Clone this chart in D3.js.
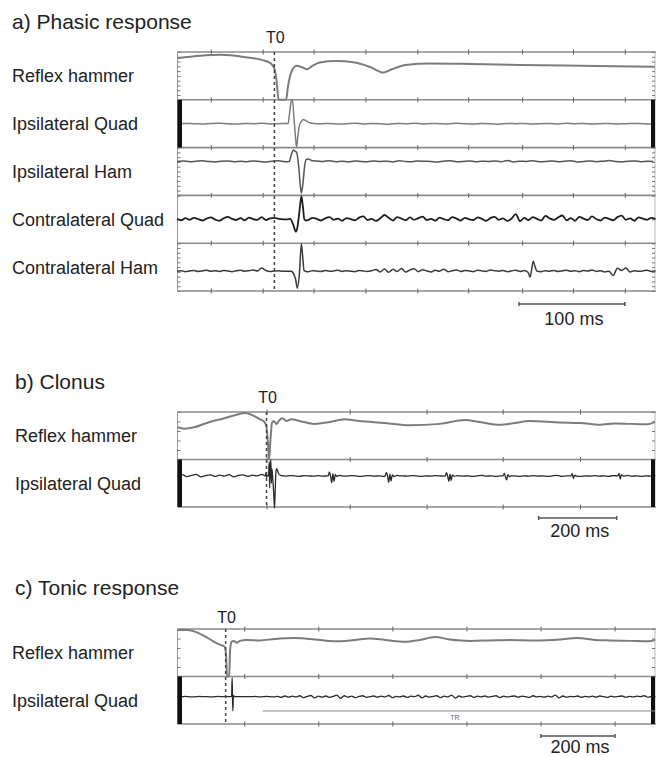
<!DOCTYPE html>
<html>
<head>
<meta charset="utf-8">
<script src="https://cdn.jsdelivr.net/npm/d3@7"></script>
<style>
  body { margin: 0; background: #fff; }
  text { font-family: "Liberation Sans", Arial, sans-serif; fill: #222; }
</style>
</head>
<body>
<svg id="fig" width="656" height="757"></svg>
<script>
// ---------- data (time in ms relative to T0, amplitude in % of row) ----------

// a) phasic response
var hammerA = [[-91.5,87],[-70,92],[-51,94],[-27,89],[-11,83],[-4,77],[0,66],[2,41],[4,0],[11,0],[13,30],[16,58],
  [21,71],[26,68],[31,64],[36,71],[43,78],[58,81],[76,78],[91,68],[103,57],[111,64],[124,73],[147,76],[185,75],
  [232,73],[289,71],[359,69]];

var iquadA = [0,1,0,-1,1,2,0,-1,1,0, 2,-1,0,1,0,0,0,0,1,-1, 0,2,-1,1,0,-2,1,0,2,-1,
  1,0,-1,2,0,-1,1,0,-2,1, 0,1,-1,0,1,-1,2,0,1,-1, 0,1,-1,0,1,0,-1];
var iquadASpike = [[13,0],[14.5,50],[16,95],[17,100],[18.4,30],[20,-60],[21,-97],[22,-60],[23.5,-10],
  [25.5,10],[27.5,18],[30,12],[34,3],[40,0]];

var ihamA = [42,44,41,43,45,42,40,43,44,41, 43,41,44,42,40,43,45,41,42,43, 43,41,44,42,45,41,43,40,44,42,
  41,44,42,43,40,45,42,41,44,43, 42,40,43,45,41,42,44,41,43,42, 44,41,46,40,43,42,45,41,42,44,
  41,43,45,40,42,44,41,43,46,42, 40,43,44,41,43,42];
var ihamASpike = [[14,42],[16,70],[18,90],[19.5,85],[21,80],[23,20],[24.5,-60],[25.5,-90],[27,-50],
  [28.5,20],[30,50],[32,52],[36,45]];

var cquadA = [2,-4,5,-2,6,1,-5,3,8,-1, -6,4,10,2,-3,5,-4,7,1,-2, 9,-3,4,6,2,0,0,0,0,0,
  0,-3,6,2,-5,4,9,-2,3,-6, 5,1,-4,7,12,-3,2,-7,4,18, 6,-5,9,3,-4,8,-2,5,11,-3,
  2,-6,7,1,-4,9,3,-5,6,0, -3,8,2,-6,5,10,-2,4,-7,3, 22,-8,6,-3,9,2,-5,14,4,-2,
  8,16,-4,5,-6,10,3,-3,12,1, -5,7,2,-4,9,15,-2,4,-6,8, 3,-2,6,1];
var cquadASpike = [[15,2],[18,-25],[20.3,-52],[21.7,-35],[23.6,30],[25.5,97],[27,50],[28.3,0],[30,-5]];

var chamA = [-17,-15,-19,-16,-14,-18,-16,-13,-17,-15, -18,-14,-16,-19,-15,-13,-17,-15,-12,-16,
  -4,-14,-18,-16,-15,-17,-17,-17,-17,-17, -17,-19,-15,-16,-18,-14,-17,-16,-13,-18,
  -15,-17,-19,-14,-16,-18,-15,-10,-20,-8, -22,-9,-18,-6,-21,-12,-7,-19,-11,-16,
  -20,-13,-17,-9,-19,-15,-12,-18,-14,-16, -19,-13,-16,-18,-12,-15,-17,-14,-19,-16,
  -13,-18,-14,-20,-8,-16,-19,-15,-17,-14, -18,-16,-13,-17,-15,-19,-14,-16,-12,-18,
  -15,-20,-17,-35,-5,-14,-4,-20,-15,-17, -16,-13,-18,-15];
var chamASpike = [[17,-20],[20,-50],[21.7,-88],[23.6,-30],[25.5,98],[27,30],[28,-15],[30,-18]];
var chamABlip = [[238,-17],[240,-25],[241.5,-42],[243,-10],[244.5,25],[246,5],[248,-17]];

var ticksA = [-60,-11,37,86,135,183,234,282,331];

// b) clonus
var hammerB = [[-228,68],[-210,65],[-185,68],[-146,79],[-108,87],[-69,96],[-54,98],[-38,94],[-18,85],[-5,79],
  [0,68],[4,30],[6.5,0],[10,41],[14,77],[18,81],[26,75],[33,83],[41,87],[51,81],[64,85],[85,81],[123,75],
  [162,79],[200,85],[238,81],[303,77],[367,72],[444,75],[508,83],[546,79],[597,73],[636,77],[674,81],
  [751,78],[803,77],[854,73],[892,76],[931,75],[977,74],[995,79]];

var quadB = [31,36,28,33,37,27,32,35,29,34, 30,36,27,33,35,29,34,31,37,28, 31,31,31,30,32,31,29,32,31,30,
  32,30,31,29,32,31,30,32,31,29, 31,32,30,31,29,31,32,30,31,30, 32,31,29,31,30,32,31,30,29,31,
  32,30,31,29,31,33,30,31,29,31, 30,32,31,29,31,30,32,30,31,29, 31,33,29,31,30,32,29,31,30,32,
  30,31,29,32,30,31,33,30,31,29, 31,30,32];
var quadBPre = [[-3,31],[-1.5,45],[0,25],[1.5,32]];
var quadBSpike = [[5,31],[7,90],[8,-20],[9,50],[11,100],[12.5,0],[14,60],[16,20],[18,-30],[20.5,-105],
  [22.5,-20],[24,45],[26,62],[28,55],[31,40],[36,33],[44,31]];
var quadBBurst1 = [[158,31],[161,48],[164,31],[167,2],[170,40],[173,8],[176,36],[180,29],[186,33],[194,31]];
var quadBBurst2 = [[304,31],[307,46],[310,31],[313,4],[316,38],[319,10],[322,35],[327,28],[334,33],[342,31]];
var quadBBurst3 = [[458,31],[461,45],[464,30],[467,8],[470,38],[473,12],[476,35],[481,29],[488,32],[495,31]];
var quadBBurst4 = [[606,31],[609,42],[612,26],[615,14],[618,36],[622,28],[628,32],[634,30]];
var quadBBurst5 = [[780,31],[783,40],[786,20],[789,34],[794,30]];
var quadBBurst6 = [[900,31],[903,42],[906,18],[909,36],[914,30]];

var ticksB = [0,213,410,605,803];

// c) tonic response
var hammerC = [[-130,98],[-103,98],[-81,94],[-57,85],[-35,75],[-16,67],[-3,63],[1,46],[4,0],[9.5,0],[12,56],
  [16,73],[22,75],[30,71],[38,75],[57,77],[92,76],[132,79],[186,81],[241,78],[295,74],[349,77],[389,80],
  [430,77],[484,73],[524,77],[565,83],[605,78],[659,75],[714,76],[768,77],[835,76],[903,78],[949,81],
  [997,77],[1038,76],[1092,75],[1141,74],[1159,77]];

var quadC = [15,15,16,15,14,15,16,15,15,14, 15,16,15,15,15,15,15,15,15,15, 15,16,14,15,16,15,14,16,12,18,
  13,17,14,19,11,16,20,10,17,13, 18,12,16,22,8,19,13,17,11,16, 19,12,15,18,13,17,14,20,11,16,
  14,18,12,17,15,21,10,18,13,16, 19,11,17,14,22,9,18,13,16,19, 12,17,14,18,13,16,19,11,17,14,
  16,18,13,17,15,12,19,14,16,13, 17,14,22,10,18,13,16,15,18,12, 16,14,17,13,18,15,12,17,14,16,
  18,13,16,14,17,15,19,13,16,15];
var quadCSpike = [[14,15],[16,15],[17.5,95],[18.5,15],[19.5,-45],[21,20],[23,15]];
var trRange = [100, 1159];
var trLevel = -45;

var ticksC = [50,250,450,650,850,1050];

// ---------- helpers ----------
function buildTrace(start, step, vals, events) {
  var pts = vals.map(function(v, i) { return [start + i * step, v]; });
  events.forEach(function(ev) {
    var a = ev[0][0], b = ev[ev.length - 1][0];
    pts = pts.filter(function(p) { return p[0] < a || p[0] > b; }).concat(ev);
  });
  return pts.sort(function(p, q) { return p[0] - q[0]; });
}

var panels = [
  { title: "a) Phasic response", titleX: 12, titleY: 29, labelX: 12,
    top: 52, rowH: 47.8, domain: [-91.5, 359.5], ticks: ticksA, t0Y: 43,
    bar: [231, 331], barY: 304, barText: "100 ms", barTextY: 325,
    rows: [
      { label: "Reflex hammer", data: hammerA, hammer: true, color: "#7c7c7c", w: 2, yt: 8 },
      { label: "Ipsilateral Quad", data: buildTrace(-92, 8, iquadA, [iquadASpike]), color: "#7c7c7c", w: 1.5, thick: true },
      { label: "Ipsilateral Ham", data: buildTrace(-92, 6, ihamA, [ihamASpike]), color: "#555", w: 1.5, yt: 9 },
      { label: "Contralateral Quad", data: buildTrace(-92, 4, cquadA, [cquadASpike]), color: "#1e1e1e", w: 1.8, yt: 2 },
      { label: "Contralateral Ham", data: buildTrace(-92, 4, chamA, [chamASpike, chamABlip]), color: "#3a3a3a", w: 1.5, yt: 10 }
    ] },
  { title: "b) Clonus", titleX: 15, titleY: 389, labelX: 15,
    top: 412, rowH: 47.5, domain: [-228, 995], ticks: ticksB, t0Y: 403,
    bar: [697, 897], barY: 518, barText: "200 ms", barTextY: 537,
    rows: [
      { label: "Reflex hammer", data: hammerB, hammer: true, color: "#7c7c7c", w: 2, yt: 7 },
      { label: "Ipsilateral Quad", data: buildTrace(-228, 12, quadB,
          [quadBPre, quadBSpike, quadBBurst1, quadBBurst2, quadBBurst3, quadBBurst4, quadBBurst5, quadBBurst6]),
        color: "#2a2a2a", w: 1.3, thick: true }
    ] },
  { title: "c) Tonic response", titleX: 15, titleY: 595, labelX: 12,
    top: 629, rowH: 47.5, domain: [-130, 1159], ticks: ticksC, t0Y: 623,
    bar: [851, 1051], barY: 736, barText: "200 ms", barTextY: 753,
    tr: true,
    rows: [
      { label: "Reflex hammer", data: hammerC, hammer: true, color: "#7c7c7c", w: 2, yt: 6 },
      { label: "Ipsilateral Quad", data: buildTrace(-130, 10, quadC, [quadCSpike]), color: "#2a2a2a", w: 1.3, thick: true }
    ] }
];

var svg = d3.select("#fig");
var left = 177.5, right = 655;

panels.forEach(function(p) {
  var g = svg.append("g");
  var x = d3.scaleLinear().domain(p.domain).range([left, right]);
  var n = p.rows.length;
  var bottom = p.top + n * p.rowH;

  g.append("text").attr("x", p.titleX).attr("y", p.titleY)
    .style("font-size", "21px").text(p.title);

  // row boundaries with little time ticks
  d3.range(n + 1).forEach(function(i) {
    var yy = p.top + i * p.rowH;
    g.append("line").attr("x1", left).attr("x2", 656).attr("y1", yy).attr("y2", yy)
      .attr("stroke", "#8a8a8a").attr("stroke-width", 1.6);
    [d3.axisBottom(x), d3.axisTop(x)].forEach(function(ax) {
      var a = g.append("g").attr("transform", "translate(0," + yy + ")")
        .call(ax.tickValues(p.ticks).tickSize(2.5).tickFormat(""));
      a.select(".domain").remove();
      a.selectAll("line").attr("stroke", "#666");
    });
  });
  g.append("line").attr("x1", left).attr("x2", left).attr("y1", p.top).attr("y2", bottom)
    .attr("stroke", "#999").attr("stroke-width", 1);
  g.append("line").attr("x1", right).attr("x2", right).attr("y1", p.top).attr("y2", bottom)
    .attr("stroke", "#bbb").attr("stroke-width", 1);

  p.rows.forEach(function(r, i) {
    var rt = p.top + i * p.rowH, rb = rt + p.rowH;
    var y = d3.scaleLinear().domain(r.hammer ? [0, 100] : [-100, 100]).range([rb, rt]);

    g.append("text").attr("x", p.labelX).attr("y", rt + p.rowH / 2 + 6.5)
      .style("font-size", "18px").text(r.label);

    if (r.yt) {
      var la = g.append("g").attr("transform", "translate(" + left + ",0)")
        .call(d3.axisRight(y).ticks(r.yt).tickSize(3).tickFormat(""));
      la.select(".domain").remove();
      la.selectAll("line").attr("stroke", "#777");
      var ra = g.append("g").attr("transform", "translate(" + right + ",0)")
        .call(d3.axisLeft(y).ticks(r.yt).tickSize(3).tickFormat(""));
      ra.select(".domain").remove();
      ra.selectAll("line").attr("stroke", "#777");
    }

    g.append("path").datum(r.data)
      .attr("fill", "none").attr("stroke", r.color).attr("stroke-width", r.w)
      .attr("stroke-linejoin", "round")
      .attr("d", d3.line().x(function(d) { return x(d[0]); }).y(function(d) { return y(d[1]); })
        .curve(d3.curveMonotoneX));

    if (r.thick) {
      g.append("rect").attr("x", left).attr("y", rt).attr("width", 4.5).attr("height", p.rowH).attr("fill", "#111");
      g.append("rect").attr("x", right - 4).attr("y", rt).attr("width", 4).attr("height", p.rowH).attr("fill", "#111");
    }

    if (p.tr && !r.hammer) {
      g.append("line").attr("x1", x(trRange[0])).attr("x2", x(trRange[1]))
        .attr("y1", y(trLevel)).attr("y2", y(trLevel))
        .attr("stroke", "#8a8a8a").attr("stroke-width", 1);
      g.append("text").attr("x", x((trRange[0] + trRange[1]) / 2) - 4).attr("y", y(trLevel) + 9)
        .attr("text-anchor", "middle").style("font-size", "7px").style("fill", "#666").text("TR");
    }
  });

  // T0 marker
  g.append("line").attr("x1", x(0)).attr("x2", x(0)).attr("y1", p.top).attr("y2", bottom)
    .attr("stroke", "#444").attr("stroke-width", 1.5).attr("stroke-dasharray", "3,3");
  g.append("text").attr("x", x(0) + 1).attr("y", p.t0Y).attr("text-anchor", "middle")
    .style("font-size", "16px").text("T0");

  // scale bar
  var sb = g.append("g").attr("stroke", "#555").attr("stroke-width", 1.5);
  sb.append("line").attr("x1", x(p.bar[0])).attr("x2", x(p.bar[1])).attr("y1", p.barY).attr("y2", p.barY);
  p.bar.forEach(function(b) {
    sb.append("line").attr("x1", x(b)).attr("x2", x(b)).attr("y1", p.barY - 2).attr("y2", p.barY + 2);
  });
  g.append("text").attr("x", x((p.bar[0] + p.bar[1]) / 2) + 2).attr("y", p.barTextY)
    .attr("text-anchor", "middle").style("font-size", "18px").text(p.barText);
});
</script>
</body>
</html>
